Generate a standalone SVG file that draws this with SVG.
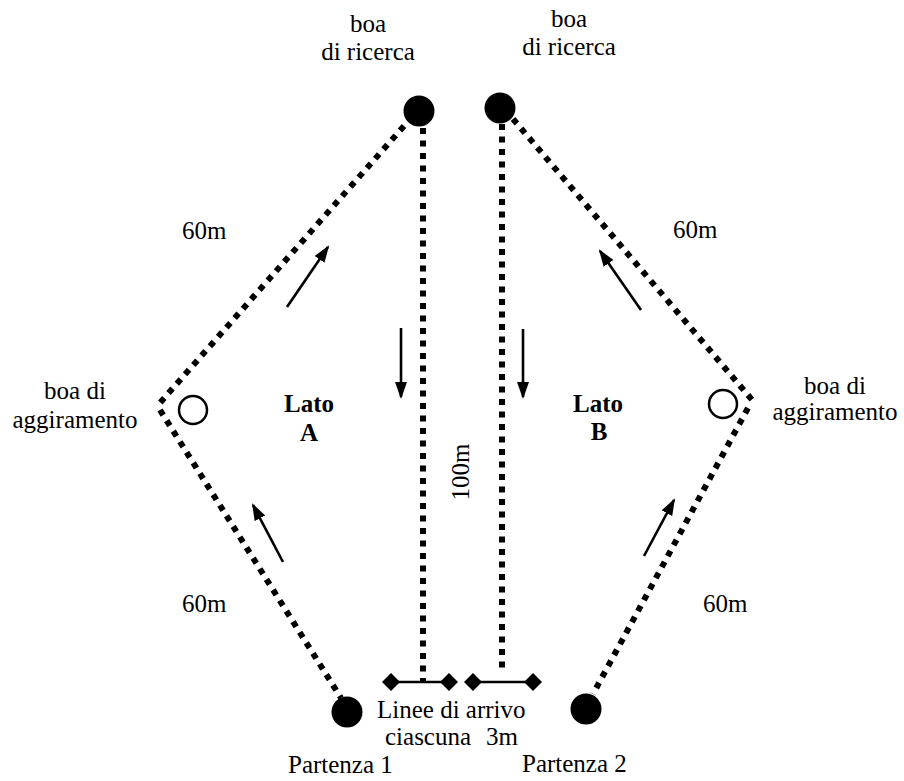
<svg xmlns="http://www.w3.org/2000/svg" width="904" height="781" viewBox="0 0 904 781">
<defs>
<style>
.t{font-family:"Liberation Serif","Times New Roman",serif;font-size:25px;fill:#000}
.b{font-weight:bold}
.m{text-anchor:middle}
.dot{stroke:#000;stroke-width:6;stroke-dasharray:6 6.5;fill:none}
.arr{stroke:#000;stroke-width:2.6;fill:none;marker-end:url(#ah)}
.fin{stroke:#000;stroke-width:2.5}
.buoy{fill:#000}
.open{fill:#fff;stroke:#000;stroke-width:2.5}
</style>
<marker id="ah" markerUnits="userSpaceOnUse" markerWidth="18" markerHeight="14" refX="15" refY="6" orient="auto">
<path d="M0,0 L17,6 L0,12 z" fill="#000"/>
</marker>
<path id="dia" d="M0,-9 L9,0 L0,9 L-9,0 z" fill="#000"/>
</defs>
<rect width="904" height="781" fill="#fff"/>
<g id="connectors">
<line class="dot" x1="404" y1="126" x2="158" y2="405"/>
<line class="dot" x1="160" y1="410" x2="341" y2="698"/>
<line class="dot" x1="513" y1="119" x2="753" y2="401"/>
<line class="dot" x1="748" y1="408" x2="593" y2="694"/>
<line class="dot" x1="423" y1="128" x2="423" y2="681"/>
<line class="dot" x1="502" y1="124" x2="502" y2="673"/>
<line class="arr" x1="287" y1="307" x2="328" y2="247"/>
<line class="arr" x1="401" y1="328" x2="401" y2="397"/>
<line class="arr" x1="523" y1="329" x2="523" y2="397"/>
<line class="arr" x1="641" y1="310" x2="600" y2="251"/>
<line class="arr" x1="283" y1="562" x2="253" y2="505"/>
<line class="arr" x1="644" y1="556" x2="674" y2="500"/>
</g>
<g id="finish-left">
<line class="fin" x1="391" y1="682" x2="449" y2="682"/>
<use href="#dia" x="391" y="682"/>
<use href="#dia" x="449" y="682"/>
</g>
<g id="finish-right">
<line class="fin" x1="473" y1="682" x2="533" y2="682"/>
<use href="#dia" x="473" y="682"/>
<use href="#dia" x="533" y="682"/>
</g>
<g id="buoy-ricerca-left"><circle class="buoy" cx="419" cy="111" r="15.5"/></g>
<g id="buoy-ricerca-right"><circle class="buoy" cx="500" cy="108" r="15.5"/></g>
<g id="buoy-partenza-1"><circle class="buoy" cx="347" cy="712" r="15.5"/></g>
<g id="buoy-partenza-2"><circle class="buoy" cx="586" cy="709" r="15.5"/></g>
<g id="buoy-aggiramento-left"><circle class="open" cx="193" cy="410" r="14"/></g>
<g id="buoy-aggiramento-right"><circle class="open" cx="723" cy="404" r="14"/></g>
<g id="labels">
<text class="t m" x="368" y="32">boa</text>
<text class="t m" x="368" y="60">di ricerca</text>
<text class="t m" x="569" y="27">boa</text>
<text class="t m" x="569" y="55">di ricerca</text>
<text class="t m" x="75" y="399">boa di</text>
<text class="t m" x="75" y="428">aggiramento</text>
<text class="t m" x="835" y="394">boa di</text>
<text class="t m" x="835" y="420">aggiramento</text>
<text class="t" x="182" y="239">60m</text>
<text class="t" x="673" y="238">60m</text>
<text class="t" x="182" y="612">60m</text>
<text class="t" x="703" y="612">60m</text>
<text class="t b m" x="309" y="412">Lato</text>
<text class="t b m" x="309" y="441">A</text>
<text class="t b m" x="598" y="412">Lato</text>
<text class="t b m" x="599" y="440">B</text>
<text class="t m" transform="translate(469 472) rotate(-90)">100m</text>
<text class="t" x="377" y="718">Linee di arrivo</text>
<text class="t" x="385" y="745">ciascuna <tspan x="486">3m</tspan></text>
<text class="t" x="288" y="773">Partenza 1</text>
<text class="t" x="522" y="772">Partenza 2</text>
</g>
</svg>
